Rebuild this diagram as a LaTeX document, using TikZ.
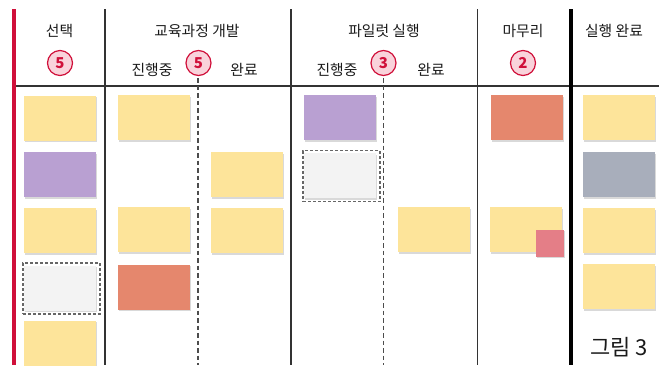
\documentclass[tikz,border=0pt]{standalone}
\usepackage{fontspec}
\setmainfont{Noto Sans CJK KR}
\usetikzlibrary{shadows}
\definecolor{crim}{HTML}{D0103A}
\definecolor{pinkfill}{HTML}{F9D3DB}
\definecolor{ylw}{HTML}{FDE49A}
\definecolor{prp}{HTML}{B9A0D2}
\definecolor{org}{HTML}{E5876D}
\definecolor{gblu}{HTML}{A8AEBB}
\definecolor{lgry}{HTML}{F3F3F3}
\definecolor{pnk}{HTML}{E47E87}
\definecolor{txt}{HTML}{1A1A1A}
\tikzset{
  note/.style={minimum width=72pt, minimum height=45pt, inner sep=0pt, draw=none,
    drop shadow={opacity=0.3, shadow xshift=1pt, shadow yshift=-1.5pt}},
  smallnote/.style={minimum width=28pt, minimum height=27pt, inner sep=0pt, fill=pnk,
    drop shadow={opacity=0.3, shadow xshift=1pt, shadow yshift=-1pt}},
  slot/.style={minimum width=77pt, minimum height=51pt, inner sep=0pt, draw=black!60,
    dash pattern=on 3pt off 2pt, line width=1.4pt},
  hdr/.style={font=\fontsize{14.8}{17}\selectfont, text=txt, inner sep=0pt},
  cnt/.style={circle, draw=crim, line width=1.2pt, fill=pinkfill, minimum size=25pt, inner sep=0pt,
    font=\fontsize{15}{17}\selectfont\bfseries, text=crim},
  sep/.style={line width=1.4pt, draw=black!80},
  sub/.style={dash pattern=on 4.5pt off 3pt, line width=1.4pt, draw=black!70},
}
\begin{document}
\begin{tikzpicture}[x=1pt,y=-1pt]
\useasboundingbox (0,0) rectangle (659,365);
% coordinates
\coordinate (rT) at (14,9);   \coordinate (rB) at (14,365);
\coordinate (aT) at (105,9);  \coordinate (aB) at (105,365);
\coordinate (bT) at (291,9);  \coordinate (bB) at (291,365);
\coordinate (cT) at (477.5,9);  \coordinate (cB) at (477.5,365);
\coordinate (dT) at (570.5,9);  \coordinate (dB) at (570.5,365);
\coordinate (hL) at (14,86);  \coordinate (hR) at (659,86);
\coordinate (s1T) at (198,78); \coordinate (s1B) at (198,365);
\coordinate (s2T) at (383.5,78); \coordinate (s2B) at (383.5,365);
% lines
\draw[sep] (hL) -- (hR);
\draw[sep] (aT) -- (aB);
\draw[sep] (bT) -- (bB);
\draw[sep] (cT) -- (cB);
\draw[line width=4pt, black] (dT) -- (dB);
\draw[line width=4pt, crim] (rT) -- (rB);
\draw[sub] (s1T) -- (s1B);
\draw[sub] (s2T) -- (s2B);
% headers
\node[hdr] (h1) at (59.5,31) {선택};
\node[hdr] (h2) at (197,31) {교육과정 개발};
\node[hdr] (h3) at (384,31) {파일럿 실행};
\node[hdr] (h4) at (523,31) {마무리};
\node[hdr] (h5) at (614,31) {실행 완료};
\node[hdr] (h2a) at (152,69.5) {진행중};
\node[hdr] (h2b) at (244,69.5) {완료};
\node[hdr] (h3a) at (337,69.5) {진행중};
\node[hdr] (h3b) at (431,69.5) {완료};
\node[cnt] (c1) at (60,63) {5};
\node[cnt] (c2) at (198.5,63) {5};
\node[cnt] (c3) at (383.5,63) {3};
\node[cnt] (c4) at (523,63) {2};
% column 1
\node[note, fill=ylw] (n11) at (60,118) {};
\node[note, fill=prp] (n12) at (60,174.5) {};
\node[note, fill=ylw] (n13) at (60,230.5) {};
\node[slot] (sl1) at (61.5,288.5) {};
\node[note, fill=lgry] (n14) at (60,288) {};
\node[note, fill=ylw] (n15) at (60,343) {};
% column 2
\node[note, fill=ylw] (n21) at (154,117.5) {};
\node[note, fill=ylw] (n22) at (154,229.5) {};
\node[note, fill=org] (n23) at (154,287) {};
\node[note, fill=ylw] (n24) at (247,174.5) {};
\node[note, fill=ylw] (n25) at (247,230.5) {};
% column 3
\node[note, fill=prp] (n31) at (340,117.5) {};
\node[slot] (sl2) at (341.5,176) {};
\node[note, fill=lgry] (n32) at (340,175.5) {};
\node[note, fill=ylw] (n33) at (434,229.5) {};
% column 4
\node[note, fill=org] (n41) at (527,117.5) {};
\node[note, fill=ylw] (n42) at (526,229.5) {};
\node[smallnote] (n43) at (550,243) {};
% column 5
\node[note, fill=ylw] (n51) at (619,117.5) {};
\node[note, fill=gblu] (n52) at (619,174.5) {};
\node[note, fill=ylw] (n53) at (619,230.5) {};
\node[note, fill=ylw] (n54) at (619,286.5) {};
% figure label
\node[font=\fontsize{22}{25}\selectfont, text=txt, inner sep=0pt] (fig) at (619,347) {그림 3};
\end{tikzpicture}
\end{document}
